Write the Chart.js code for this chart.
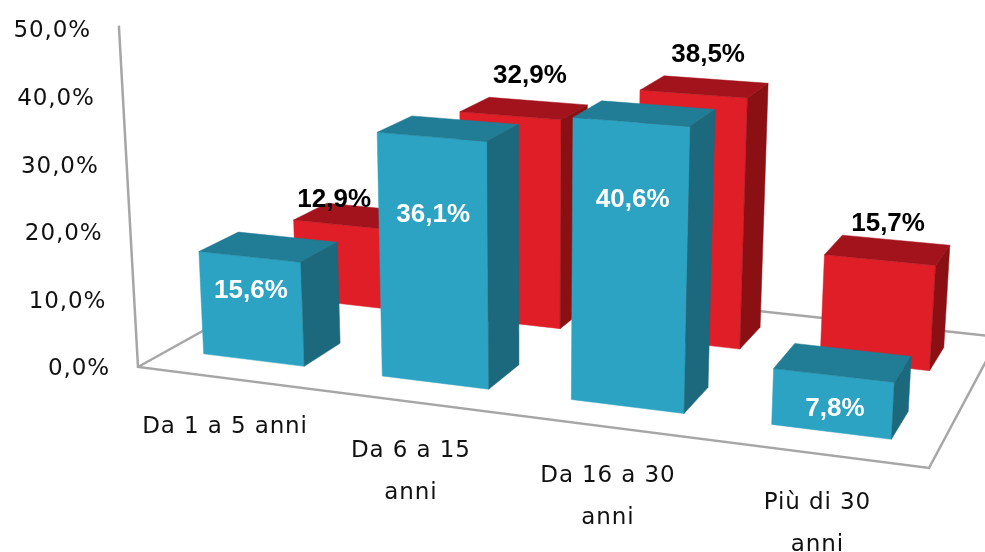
<!DOCTYPE html>
<html>
<head>
<meta charset="utf-8">
<style>html,body{margin:0;padding:0;background:#fff}canvas{display:block}</style>
<script src="https://cdn.jsdelivr.net/npm/chart.js@4"></script>
</head>
<body>
<canvas id="c" width="985" height="552"></canvas>
<script>
const categories = [["Da 1 a 5 anni"], ["Da 6 a 15", "anni"], ["Da 16 a 30", "anni"], ["Più di 30", "anni"]];
const frontSeries = [15.6, 36.1, 40.6, 7.8];
const backSeries = [12.9, 32.9, 38.5, 15.7];
const yTickLabels = ["0,0%", "10,0%", "20,0%", "30,0%", "40,0%", "50,0%"];

// Perspective camera for the 3D look (floor quad, vertical convergence, depth rows)
const F0 = [138, 367], F1 = [929, 468], B1 = [999, 337], B0 = [323, 264];
const ROWS = [{v0: 0.147, v1: 0.345, ds: -0.004}, {v0: 0.66, v1: 0.86, ds: -0.008}];
const FACES = [
  {front: '#2CA3C3', top: '#217C95', side: '#1C687C'},
  {front: '#DF1E28', top: '#A3131B', side: '#8A1014'}
];
const sx = F1[0]-B1[0], sy = F1[1]-B1[1], tx = B0[0]-B1[0], ty = B0[1]-B1[1];
const qx = F0[0]-F1[0]+B1[0]-B0[0], qy = F0[1]-F1[1]+B1[1]-B0[1];
const den = sx*ty-tx*sy;
const hg = (qx*ty-tx*qy)/den, hh = (sx*qy-qx*sy)/den;
const ha = F1[0]-F0[0]+hg*F1[0], hb = B0[0]-F0[0]+hh*B0[0], hc = F0[0];
const hd = F1[1]-F0[1]+hg*F1[1], he = B0[1]-F0[1]+hh*B0[1], hf = F0[1];
function floorPt(s, v) {
  const w = hg*s+hh*v+1;
  return [(ha*s+hb*v+hc)/w, (hd*s+he*v+hf)/w];
}
function project(chart, s, v, heightPx, scaleFactor) {
  const yS = chart.scales.y;
  const unit = (yS.getPixelForValue(0)-yS.getPixelForValue(50))/50;
  const p = floorPt(s, v);
  const k = scaleFactor ? scaleFactor*unit : 6.35+0.0085*(p[1]-329);
  const d = heightPx*k/unit;
  return [p[0]-d*(530-p[0])/7000, p[1]-d];
}
function poly(ctx, pts, fill) {
  ctx.beginPath();
  pts.forEach((p, i) => i ? ctx.lineTo(p[0], p[1]) : ctx.moveTo(p[0], p[1]));
  ctx.closePath();
  ctx.fillStyle = fill;
  ctx.fill();
  ctx.strokeStyle = fill;
  ctx.lineWidth = 0.5;
  ctx.stroke();
}
function fmt(v) { return v.toFixed(1).replace('.', ',') + '%'; }

const perspective = {
  id: 'perspective',
  beforeDraw(chart) {
    const ctx = chart.ctx, area = chart.chartArea;
    ctx.letterSpacing = '0.9px';
    const yS = chart.scales.y, xS = chart.scales.x;
    yS.getLabelItems().forEach(item => {
      const y = item.options.translation[1];
      const h = yS.getPixelForValue(0)-y;
      const p = project(chart, 0, 0, h, 1);
      item.options.translation = [p[0]-28, y+1.5];
      item.options.textAlign = 'right';
    });
    xS.getLabelItems().forEach((item, i) => {
      const s = (xS.getPixelForTick(i)-area.left)/(area.right-area.left);
      const p = floorPt(s, 0);
      item.options.translation = [p[0]-2, p[1]+49-21];
      item.options.textAlign = 'center';
    });
  },
  beforeDatasetsDraw(chart) {
    const ctx = chart.ctx;
    ctx.save();
    ctx.strokeStyle = '#A6A6A6';
    ctx.lineWidth = 2.5;
    ctx.lineJoin = 'miter';
    const yS = chart.scales.y;
    const top = project(chart, 0, 0, yS.getPixelForValue(0)-yS.getPixelForValue(50), 1.01);
    ctx.beginPath();
    ctx.moveTo(top[0], top[1]);
    ctx.lineTo(F0[0], F0[1]);
    ctx.lineTo(F1[0], F1[1]);
    ctx.lineTo(B1[0], B1[1]);
    ctx.lineTo(B0[0], B0[1]);
    ctx.lineTo(F0[0], F0[1]);
    ctx.stroke();
    ctx.restore();
  },
  beforeDatasetDraw(chart, args) {
    const ctx = chart.ctx, area = chart.chartArea, W = area.right-area.left;
    const row = ROWS[args.index], col = FACES[args.index];
    ctx.save();
    args.meta.data.forEach(el => {
      const s0 = (el.x-el.width/2-area.left)/W+row.ds, s1 = (el.x+el.width/2-area.left)/W+row.ds;
      const h = el.base-el.y;
      const P = (s, v, z) => project(chart, s, v, z);
      poly(ctx, [P(s0,row.v0,0), P(s1,row.v0,0), P(s1,row.v0,h), P(s0,row.v0,h)], col.front);
      poly(ctx, [P(s0,row.v0,h), P(s1,row.v0,h), P(s1,row.v1,h), P(s0,row.v1,h)], col.top);
      poly(ctx, [P(s1,row.v0,0), P(s1,row.v1,0), P(s1,row.v1,h), P(s1,row.v0,h)], col.side);
    });
    ctx.restore();
    return false;
  },
  afterDatasetsDraw(chart) {
    const ctx = chart.ctx, area = chart.chartArea, W = area.right-area.left;
    ctx.save();
    ctx.letterSpacing = '0px';
    ctx.font = 'bold 26px "Liberation Sans", Arial, sans-serif';
    ctx.textAlign = 'center';
    ctx.textBaseline = 'middle';
    const metaF = chart.getDatasetMeta(0), metaB = chart.getDatasetMeta(1);
    const sOf = px => (px-area.left)/W;
    metaB.data.forEach((el, i) => {
      const s0 = sOf(el.x-el.width/2)+ROWS[1].ds, s1 = sOf(el.x+el.width/2)+ROWS[1].ds, h = el.base-el.y;
      const a = project(chart, s0, ROWS[1].v1, h), b = project(chart, s1, ROWS[1].v1, h);
      let x = (a[0]+b[0])/2-8, y = (a[1]+b[1])/2+(h < 150 ? -16 : -25);
      const nb = metaF.data[i+1];
      if (nb) {
        const fl = project(chart, sOf(nb.x-nb.width/2)+ROWS[0].ds, ROWS[0].v0, nb.base-nb.y)[0];
        if (x > fl-43) { const moved = x-(fl-43); x = fl-43; if (moved > 5) y += 8; }
      }
      ctx.fillStyle = '#000';
      ctx.fillText(fmt(backSeries[i]), x, y);
    });
    metaF.data.forEach((el, i) => {
      const s0 = sOf(el.x-el.width/2)+ROWS[0].ds, s1 = sOf(el.x+el.width/2)+ROWS[0].ds, h = el.base-el.y;
      const a = project(chart, s0, ROWS[0].v0, h), b = project(chart, s1, ROWS[0].v0, h);
      const off = Math.min(78, Math.max(33, h*0.32));
      ctx.fillStyle = '#fff';
      ctx.fillText(fmt(frontSeries[i]), (a[0]+b[0])/2+1, (a[1]+b[1])/2+off);
    });
    ctx.restore();
  }
};

new Chart(document.getElementById('c'), {
  type: 'bar',
  plugins: [perspective],
  data: {
    labels: categories,
    datasets: [
      {label: 'Serie 1', data: frontSeries, backgroundColor: FACES[0].front, grouped: false, barPercentage: 0.57, categoryPercentage: 1},
      {label: 'Serie 2', data: backSeries, backgroundColor: FACES[1].front, grouped: false, barPercentage: 0.57, categoryPercentage: 1}
    ]
  },
  options: {
    responsive: false,
    animation: false,
    devicePixelRatio: 1,
    layout: {padding: {top: 30, right: 56, left: 0, bottom: 0}},
    plugins: {legend: {display: false}, tooltip: {enabled: false}, title: {display: false}},
    scales: {
      x: {
        grid: {display: false}, border: {display: false},
        afterFit: s => { s.height = 184; },
        ticks: {autoSkip: false, maxRotation: 0, minRotation: 0, color: '#111',
          font: {family: '"DejaVu Sans", sans-serif', size: 23, lineHeight: '42px'}}
      },
      y: {
        min: 0, max: 50,
        grid: {display: false}, border: {display: false},
        afterFit: s => { s.width = 138; },
        ticks: {stepSize: 10, color: '#111',
          callback: (v, i) => yTickLabels[i],
          font: {family: '"DejaVu Sans", sans-serif', size: 23}}
      }
    }
  }
});
</script>
</body>
</html>
